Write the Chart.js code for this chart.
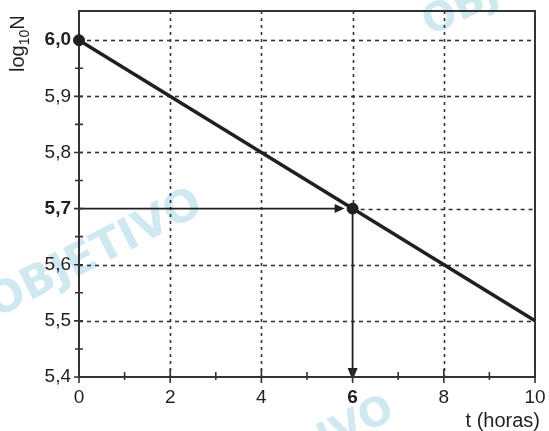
<!DOCTYPE html>
<html>
<head>
<meta charset="utf-8">
<script src="https://cdn.jsdelivr.net/npm/chart.js@4.4.0/dist/chart.umd.min.js"></script>
<style>
  html, body { margin: 0; padding: 0; background: #fff; }
  #wrap { width: 549px; height: 431px; }
</style>
</head>
<body>
<div id="wrap"><canvas id="chart"></canvas></div>
<script>
// decay line: log10 N against t (hours)
const lineT = [0, 10];
const lineLogN = [6.0, 5.5];
// marked points
const dotT = [0, 6];
const dotLogN = [6.0, 5.7];
// reading taken off the line
const readT = 6;
const readLogN = 5.7;
// tick values
const xMajor = [0, 2, 4, 6, 8, 10];
const xMinor = [1, 3, 5, 7, 9];
const yMajor = [5.4, 5.5, 5.6, 5.7, 5.8, 5.9, 6.0];
const yMinor = [5.45, 5.55, 5.65, 5.75, 5.85, 5.95];
const boldX = [6];
const boldY = [5.7, 6.0];

const FONT = '"Liberation Sans", Arial, sans-serif';
const INK = '#231f20';

function fmtY(v) {
    return v.toFixed(1).replace('.', ',');
}

function arrowHead(ctx, x, y, dir, len, half) {
    ctx.beginPath();
    if (dir === 'right') {
        ctx.moveTo(x, y); ctx.lineTo(x - len, y - half); ctx.lineTo(x - len, y + half);
    } else {
        ctx.moveTo(x, y); ctx.lineTo(x - half, y - len); ctx.lineTo(x + half, y - len);
    }
    ctx.closePath();
    ctx.fill();
}

const decoPlugin = {
    id: 'deco',
    beforeDraw(chart) {
        const ctx = chart.ctx;
        // faint watermarks
        ctx.save();
        ctx.fillStyle = 'rgba(150, 205, 222, 0.45)';
        ctx.font = 'bold 44px "DejaVu Sans", sans-serif';
        ctx.translate(-4, 318);
        ctx.rotate(-0.47);
        ctx.fillText('OBJETIVO', 0, 0);
        ctx.restore();
        ctx.save();
        ctx.fillStyle = 'rgba(150, 205, 222, 0.45)';
        ctx.font = 'bold 40px "DejaVu Sans", sans-serif';
        ctx.translate(430, 36);
        ctx.rotate(-0.45);
        ctx.fillText('OBJ', 0, 0);
        ctx.restore();
        ctx.save();
        ctx.fillStyle = 'rgba(150, 205, 222, 0.45)';
        ctx.font = 'bold 40px "DejaVu Sans", sans-serif';
        ctx.translate(325, 452);
        ctx.rotate(-0.45);
        ctx.fillText('IVO', 0, 0);
        ctx.restore();
    },
    beforeDatasetsDraw(chart) {
        const ctx = chart.ctx;
        const xs = chart.scales.x, ys = chart.scales.y;
        const a = chart.chartArea;
        const px = xs.getPixelForValue(readT), py = ys.getPixelForValue(readLogN);
        ctx.save();
        ctx.strokeStyle = '#333';
        ctx.lineWidth = 1.6;
        // vertical dotted grid
        ctx.setLineDash([3, 4]);
        xMajor.forEach(v => {
            if (v === 0 || v === 10) return;
            const x = Math.round(xs.getPixelForValue(v)) + 0.5;
            ctx.beginPath();
            ctx.moveTo(x, a.top);
            ctx.lineTo(x, v === readT ? py : a.bottom);
            ctx.stroke();
        });
        // horizontal dashed grid
        ctx.setLineDash([4, 4]);
        yMajor.forEach(v => {
            if (v === 5.4) return;
            const y = Math.round(ys.getPixelForValue(v)) + 0.5;
            ctx.beginPath();
            ctx.moveTo(v === readLogN ? px : a.left, y);
            ctx.lineTo(a.right, y);
            ctx.stroke();
        });
        ctx.setLineDash([]);
        // reading arrows
        ctx.strokeStyle = INK;
        ctx.fillStyle = INK;
        ctx.lineWidth = 1.8;
        ctx.beginPath();
        ctx.moveTo(a.left, py); ctx.lineTo(px - 14, py);
        ctx.moveTo(px, py); ctx.lineTo(px, a.bottom - 8);
        ctx.stroke();
        arrowHead(ctx, px - 8, py, 'right', 10, 4.5);
        arrowHead(ctx, px, a.bottom + 3, 'down', 12, 5);
        // frame
        ctx.strokeStyle = '#333';
        ctx.lineWidth = 2;
        ctx.strokeRect(a.left, a.top, a.right - a.left, a.bottom - a.top);
        // tick marks
        ctx.lineWidth = 1.6;
        ctx.beginPath();
        yMajor.forEach(v => {
            const y = ys.getPixelForValue(v);
            ctx.moveTo(a.left - 5, y); ctx.lineTo(a.left + 4, y);
        });
        yMinor.forEach(v => {
            const y = ys.getPixelForValue(v);
            ctx.moveTo(a.left - 4, y); ctx.lineTo(a.left + 4, y);
        });
        xMajor.forEach(v => {
            const x = xs.getPixelForValue(v);
            ctx.moveTo(x, a.bottom - 8); ctx.lineTo(x, a.bottom + 6);
        });
        xMinor.forEach(v => {
            const x = xs.getPixelForValue(v);
            ctx.moveTo(x, a.bottom - 5); ctx.lineTo(x, a.bottom + 3);
        });
        ctx.stroke();
        ctx.restore();
    },
    afterDraw(chart) {
        const ctx = chart.ctx;
        ctx.save();
        ctx.fillStyle = INK;
        // x title
        ctx.font = '20px ' + FONT;
        ctx.textAlign = 'right';
        ctx.textBaseline = 'alphabetic';
        ctx.fillText('t (horas)', 540, 427);
        // y title with subscript
        ctx.translate(24, 72);
        ctx.rotate(-Math.PI / 2);
        ctx.textAlign = 'left';
        ctx.font = '20px ' + FONT;
        ctx.fillText('log', 0, 0);
        let w = ctx.measureText('log').width;
        ctx.font = '14px ' + FONT;
        ctx.fillText('10', w, 5);
        w += ctx.measureText('10').width;
        ctx.font = '20px ' + FONT;
        ctx.fillText('N', w, 0);
        ctx.restore();
    }
};

const ctx = document.getElementById('chart').getContext('2d');
const chart = new Chart(ctx, {
    type: 'scatter',
    data: {
        datasets: [{
            label: 'linha',
            data: lineT.map((t, i) => ({ x: t, y: lineLogN[i] })),
            showLine: true,
            borderColor: INK,
            borderWidth: 3.5,
            pointRadius: 0,
            clip: false
        }, {
            label: 'pontos',
            data: dotT.map((t, i) => ({ x: t, y: dotLogN[i] })),
            showLine: false,
            backgroundColor: INK,
            borderColor: INK,
            pointRadius: 5.5,
            clip: false
        }]
    },
    options: {
        responsive: true,
        maintainAspectRatio: false,
        animation: false,
        layout: { padding: { top: 11, right: 14, left: 0, bottom: 0 } },
        plugins: {
            legend: { display: false },
            tooltip: { enabled: false }
        },
        scales: {
            x: {
                type: 'linear',
                min: 0,
                max: 10,
                afterBuildTicks: s => { s.ticks = xMajor.map(v => ({ value: v })); },
                afterFit: s => { s.height = 54; s.paddingLeft = 0; s.paddingRight = 0; },
                grid: { display: false, drawTicks: false },
                border: { display: false },
                ticks: {
                    padding: 9,
                    color: INK,
                    maxRotation: 0,
                    callback: v => String(v),
                    font: c => ({ size: 19, family: FONT, weight: boldX.includes(c.tick && c.tick.value) ? 'bold' : 'normal' })
                }
            },
            y: {
                type: 'linear',
                min: 5.4,
                max: 6.052,
                afterBuildTicks: s => { s.ticks = yMajor.map(v => ({ value: v })); },
                afterFit: s => { s.width = 79; s.paddingTop = 0; s.paddingBottom = 0; },
                grid: { display: false, drawTicks: false },
                border: { display: false },
                ticks: {
                    padding: 8,
                    color: INK,
                    callback: v => fmtY(v),
                    font: c => ({ size: 19, family: FONT, weight: boldY.includes(c.tick && c.tick.value) ? 'bold' : 'normal' })
                }
            }
        }
    },
    plugins: [decoPlugin]
});
</script>
</body>
</html>
